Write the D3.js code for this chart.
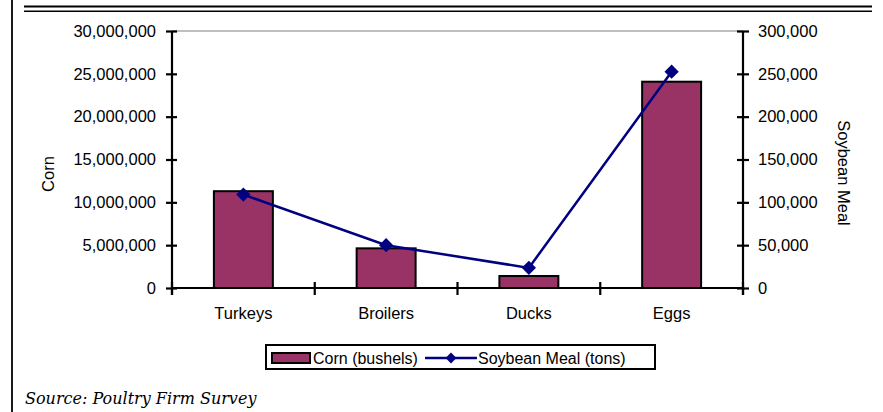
<!DOCTYPE html>
<html>
<head>
<meta charset="utf-8">
<script src="https://cdn.jsdelivr.net/npm/d3@7"></script>
<style>
  html, body { margin: 0; padding: 0; background: #fff; }
  svg { display: block; }
  .tick text { font-family: "Liberation Sans", Arial, sans-serif; font-size: 16.5px; fill: #000; }
</style>
</head>
<body>
<svg id="chart" width="883" height="412"></svg>
<script>
// Feed use by poultry sector
const categories = ["Turkeys", "Broilers", "Ducks", "Eggs"];
const cornBushels = [11300000, 4630000, 1400000, 24080000];
const soybeanTons = [109000, 50000, 23500, 252500];
const cornTicks = [0, 5000000, 10000000, 15000000, 20000000, 25000000, 30000000];
const soyTicks = [0, 50000, 100000, 150000, 200000, 250000, 300000];
const legendLabels = ["Corn (bushels)", "Soybean Meal (tons)"];

const barColor = "#993366";
const lineColor = "#000080";
const font = '"Liberation Sans", Arial, sans-serif';

const svg = d3.select("#chart");

// page frame: left rule and double rule across the top
svg.append("line").attr("x1", 12).attr("x2", 12).attr("y1", 0).attr("y2", 412)
  .attr("stroke", "#000").attr("stroke-width", 1.8);
svg.append("line").attr("x1", 24).attr("x2", 872).attr("y1", 6.5).attr("y2", 6.5)
  .attr("stroke", "#000").attr("stroke-width", 2.2);
svg.append("line").attr("x1", 24).attr("x2", 872).attr("y1", 11.2).attr("y2", 11.2)
  .attr("stroke", "#000").attr("stroke-width", 1.5);

const plot = { left: 172, right: 743, top: 31, bottom: 288 };

const x = d3.scaleBand().domain(categories)
  .range([plot.left, plot.right])
  .paddingInner(0.587).paddingOuter(0.2935);
const xStep = d3.scaleBand().domain(categories).range([plot.left, plot.right]).padding(0);

const yCorn = d3.scaleLinear().domain([0, 30000000]).range([plot.bottom, plot.top]);
const ySoy = d3.scaleLinear().domain([0, 300000]).range([plot.bottom, plot.top]);

// plot area top border
svg.append("line").attr("x1", plot.left).attr("x2", plot.right)
  .attr("y1", plot.top).attr("y2", plot.top)
  .attr("stroke", "#808080").attr("stroke-width", 1.2);

// bars
svg.append("g").selectAll("rect").data(categories).join("rect")
  .attr("x", d => x(d))
  .attr("width", x.bandwidth())
  .attr("y", (d, i) => yCorn(cornBushels[i]))
  .attr("height", (d, i) => plot.bottom - yCorn(cornBushels[i]))
  .attr("fill", barColor)
  .attr("stroke", "#000").attr("stroke-width", 2);

// left axis
const leftAxis = svg.append("g").attr("transform", `translate(${plot.left},0)`)
  .call(d3.axisLeft(yCorn).tickValues(cornTicks).tickFormat(d3.format(",")).tickSize(6).tickPadding(10));
leftAxis.select(".domain").attr("stroke", "#000").attr("stroke-width", 2.2).attr("d", `M0,${plot.top}V${plot.bottom + 7}`);
leftAxis.selectAll(".tick line").attr("x1", 5).attr("x2", -6).attr("stroke-width", 2.2);

// right axis
const rightAxis = svg.append("g").attr("transform", `translate(${plot.right},0)`)
  .call(d3.axisRight(ySoy).tickValues(soyTicks).tickFormat(d3.format(",")).tickSize(6).tickPadding(9));
rightAxis.select(".domain").attr("stroke", "#000").attr("stroke-width", 2.2).attr("d", `M0,${plot.top}V${plot.bottom + 7}`);
rightAxis.selectAll(".tick line").attr("x1", -6).attr("x2", 6).attr("stroke-width", 2.2);

// category axis with ticks between groups
const bottomG = svg.append("g").attr("transform", `translate(0,${plot.bottom})`);
bottomG.append("line").attr("x1", plot.left).attr("x2", plot.right)
  .attr("stroke", "#000").attr("stroke-width", 2.2);
const boundaries = categories.map(c => xStep(c)).concat([plot.right]);
bottomG.selectAll("line.sep").data(boundaries).join("line").attr("class", "sep")
  .attr("x1", d => d).attr("x2", d => d).attr("y1", -6).attr("y2", 7)
  .attr("stroke", "#000").attr("stroke-width", 2.2);
bottomG.selectAll("text").data(categories).join("text")
  .attr("x", d => x(d) + x.bandwidth() / 2)
  .attr("y", 31)
  .attr("text-anchor", "middle")
  .attr("font-family", font).attr("font-size", 16.5)
  .text(d => d);

// soybean meal line
const pts = categories.map((c, i) => [x(c) + x.bandwidth() / 2, ySoy(soybeanTons[i])]);
svg.append("path").datum(pts)
  .attr("d", d3.line())
  .attr("fill", "none").attr("stroke", lineColor).attr("stroke-width", 2.5);
const diamond = d3.symbol().type(d3.symbolDiamond2).size(130);
svg.append("g").selectAll("path").data(pts).join("path")
  .attr("transform", d => `translate(${d[0]},${d[1]})`)
  .attr("d", diamond)
  .attr("fill", lineColor);

// axis titles
svg.append("text").attr("transform", "translate(54,174) rotate(-90)")
  .attr("text-anchor", "middle").attr("font-family", font).attr("font-size", 16.5).text("Corn");
svg.append("text").attr("transform", "translate(838,173) rotate(90)")
  .attr("text-anchor", "middle").attr("font-family", font).attr("font-size", 16.5).text("Soybean Meal");

// legend
const lg = svg.append("g");
lg.append("rect").attr("x", 266).attr("y", 345).attr("width", 389).attr("height", 24)
  .attr("fill", "#fff").attr("stroke", "#000").attr("stroke-width", 2);
lg.append("rect").attr("x", 272).attr("y", 353).attr("width", 38).attr("height", 10)
  .attr("fill", barColor).attr("stroke", "#000").attr("stroke-width", 2);
lg.append("text").attr("x", 313).attr("y", 363.5).attr("font-family", font).attr("font-size", 16)
  .text(legendLabels[0]);
lg.append("line").attr("x1", 425).attr("x2", 477).attr("y1", 358).attr("y2", 358)
  .attr("stroke", lineColor).attr("stroke-width", 2.5);
lg.append("path").attr("transform", "translate(451,358)")
  .attr("d", d3.symbol().type(d3.symbolDiamond2).size(75)).attr("fill", lineColor);
lg.append("text").attr("x", 478).attr("y", 363.5).attr("font-family", font).attr("font-size", 16)
  .text(legendLabels[1]);

// source note
svg.append("text").attr("x", 25).attr("y", 404)
  .attr("font-family", '"DejaVu Serif", serif').attr("font-style", "italic").attr("font-size", 16)
  .text("Source: Poultry Firm Survey");
</script>
</body>
</html>
